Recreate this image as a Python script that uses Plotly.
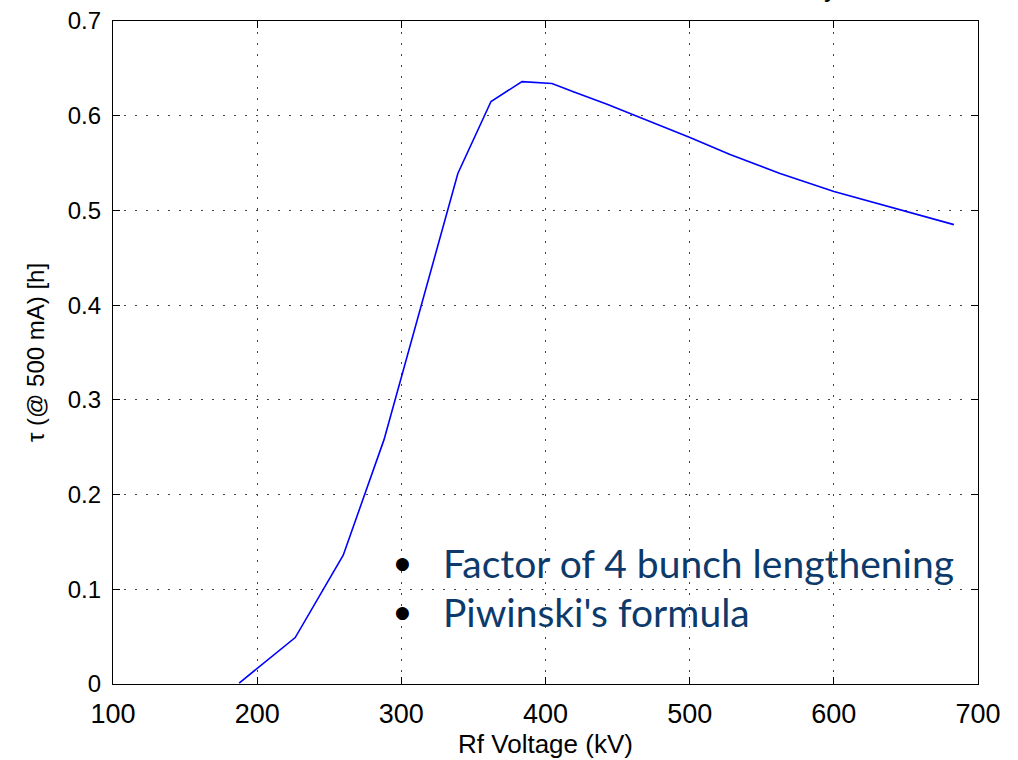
import plotly.graph_objects as go

# RF voltage scan: beam lifetime at 500 mA
rf_voltage_kv = [187.5, 226.4, 259.7, 288.0, 339.2, 362.2, 383.7, 404.5, 419.8,
                 442.7, 465.6, 500.2, 528.0, 562.7, 600.1, 640.0, 683.3]
lifetime_h = [0.001, 0.049, 0.136, 0.258, 0.539, 0.615, 0.636, 0.634, 0.625,
              0.612, 0.598, 0.577, 0.559, 0.539, 0.520, 0.503, 0.485]

x_ticks = [100, 200, 300, 400, 500, 600, 700]
y_ticks = [0, 0.1, 0.2, 0.3, 0.4, 0.5, 0.6, 0.7]
y_tick_text = ["0", "0.1", "0.2", "0.3", "0.4", "0.5", "0.6", "0.7"]

notes = ["Factor of 4 bunch lengthening", "Piwinski's formula"]

FAMILY = "Liberation Sans, Arial, sans-serif"

fig = go.Figure()
fig.add_trace(go.Scatter(
    x=rf_voltage_kv, y=lifetime_h, mode="lines",
    line=dict(color="#0000ff", width=1.6), showlegend=False,
))

common_axis = dict(
    showline=True, linecolor="#000000", linewidth=1.3, mirror="ticks",
    ticks="inside", ticklen=7, tickwidth=1, tickcolor="#000000",
    showgrid=True, gridcolor="#444444", griddash="2px,9px", gridwidth=1,
    zeroline=False, automargin=False,
)

fig.update_xaxes(
    range=[100, 700], tickvals=x_ticks, ticktext=[str(v) for v in x_ticks],
    tickfont=dict(family=FAMILY, size=27, color="#000000"),
    ticklabelstandoff=5,
    title=dict(text="Rf Voltage (kV)", font=dict(family=FAMILY, size=26, color="#000000"),
               standoff=2),
    **common_axis,
)
fig.update_yaxes(
    range=[0, 0.7], tickvals=y_ticks, ticktext=y_tick_text,
    tickfont=dict(family=FAMILY, size=24, color="#000000"),
    ticklabelstandoff=6,
    title=dict(text="τ (@ 500 mA) [h]", font=dict(family=FAMILY, size=24, color="#000000"),
               standoff=16),
    **common_axis,
)

L, R, T, B = 113, 40, 21, 76
W, H = 1018, 760


def px_to_paper(px, py):
    return (px - L) / (W - L - R), (H - py - B) / (H - T - B)


# Bulleted notes
for i, txt in enumerate(notes):
    yp = 563 + 49 * i
    bx, by = px_to_paper(402, yp)
    tx, ty = px_to_paper(441, yp)
    fig.add_annotation(
        x=bx, y=by, xref="paper", yref="paper", text="●",
        showarrow=False, font=dict(family="DejaVu Sans", size=17, color="#000000"),
        xanchor="center", yanchor="middle",
    )
    fig.add_annotation(
        x=tx, y=ty, xref="paper", yref="paper", text=txt,
        showarrow=False, font=dict(family="Lato, sans-serif", size=39, color="#0d3a6b"),
        xanchor="left", yanchor="middle",
    )

# Tail of the slide heading running off the top edge
hx, hy = px_to_paper(830, -12)
fig.add_annotation(
    x=hx, y=hy, xref="paper", yref="paper", text="y", showarrow=False,
    font=dict(family=FAMILY, size=26, color="#000000"),
    xanchor="center", yanchor="middle",
)

fig.update_layout(
    width=W, height=H,
    margin=dict(l=L, r=R, t=T, b=B, autoexpand=False),
    paper_bgcolor="#ffffff", plot_bgcolor="#ffffff",
)

fig.write_html("out.html")
